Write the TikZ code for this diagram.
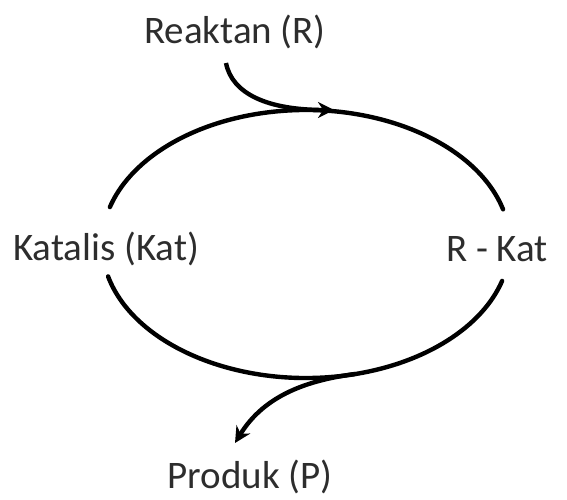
\documentclass[tikz,border=0pt]{standalone}
\usepackage{fontspec}
\setmainfont{Carlito}
\usetikzlibrary{arrows.meta}
\definecolor{cText}{RGB}{45,45,45}
\tikzset{
  lbl/.style={font=\fontsize{19.5}{22}\selectfont, text=cText, inner sep=0pt},
  cyc/.style={line width=2.2pt, line cap=round},
  flow/.style={line width=2.2pt, -{Stealth[length=8pt,width=8pt]}}
}

\begin{document}
\begin{tikzpicture}[x=0.5pt, y=0.5pt]
  \useasboundingbox (0,0) rectangle (567,499);
  % labels
  \node[lbl] (reaktan) at (235,467) {Reaktan (R)};
  \node[lbl] (katalis) at (106,250) {Katalis (Kat)};
  \node[lbl] (rkat) at (497,250) {R - Kat};
  \node[lbl] (produk) at (250,22) {Produk (P)};
  % cycle
  \draw[cyc] (306,255) ++(15:204 and 134) arc[start angle=15, end angle=164, x radius=204, y radius=134];
  \draw[cyc] (306,255) ++(194:204 and 134) arc[start angle=194, end angle=344, x radius=204, y radius=134];
  % in and out
  \coordinate (rin) at (226,436);
  \coordinate (rtop) at (334,389);
  \coordinate (pout) at (355,125);
  \coordinate (pend) at (235,56);
  \draw[flow] (rin) .. controls (232,405) and (268,389) .. (rtop);
  \draw[flow] (pout) .. controls (310,119) and (265,105) .. (pend);
\end{tikzpicture}
\end{document}
